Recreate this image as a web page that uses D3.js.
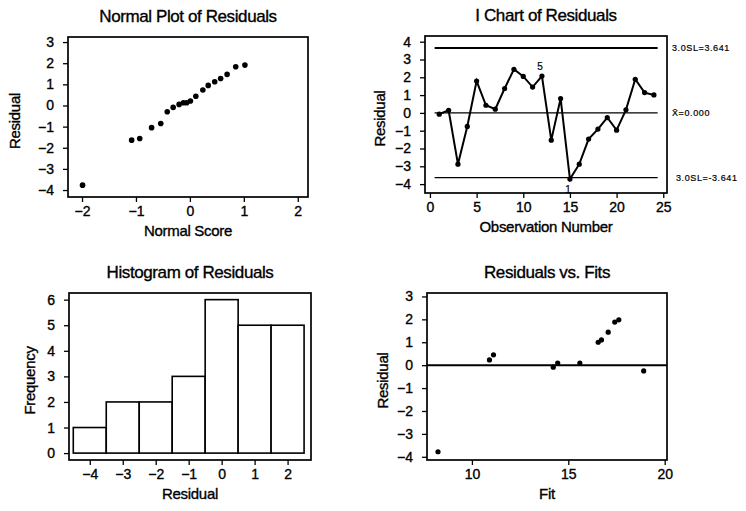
<!DOCTYPE html>
<html>
<head>
<meta charset="utf-8">
<script src="https://cdn.jsdelivr.net/npm/d3@7"></script>
<style>
  body { margin: 0; background: #fff; }
  text { font-family: Arial, "Liberation Sans", sans-serif; fill: #000; stroke: #000; stroke-width: 0.35px; }
  .axis path { display: none; }
  .axis line { stroke: #000; stroke-width: 1.3; }
  .axis text { font-size: 14px; }
  .frame { fill: none; stroke: #000; stroke-width: 1.7; }
  .title { font-size: 17px; letter-spacing: -0.4px; }
  .label { font-size: 15px; letter-spacing: -0.3px; }
</style>
</head>
<body>
<svg id="chart" width="746" height="511"></svg>
<script>
// residual diagnostics, four panels

// normal plot of residuals
var normalScore = [-1.99, -1.08, -0.93, -0.71, -0.54, -0.42, -0.31, -0.20, -0.12, -0.06,
                   0.01, 0.11, 0.24, 0.34, 0.46, 0.57, 0.69, 0.85, 1.02];
var normalResid = [-3.77, -1.64, -1.56, -1.05, -0.85, -0.30, -0.09, 0.05, 0.13, 0.13,
                   0.21, 0.44, 0.73, 0.95, 1.12, 1.28, 1.47, 1.83, 1.91];

// I chart of residuals (observation order)
var obsResid = [-0.07, 0.15, -2.88, -0.76, 1.79, 0.43, 0.21, 1.37, 2.45, 2.05, 1.45, 2.07,
                -1.53, 0.81, -3.72, -2.88, -1.47, -0.91, -0.26, -0.97, 0.17, 1.89, 1.14, 1.01];
var ucl = 3.641, centre = 0.000, lcl = -3.641;
var limitLabels = ["3.0SL=3.641", "X\u0304=0.000", "3.0SL=-3.641"];
var testObs = [12, 15];
var testText = ["5", "1"];

// histogram of residuals
var binMid = [-4, -3, -2, -1, 0, 1, 2];
var binFreq = [1, 2, 2, 3, 6, 5, 5];

// residuals vs fits
var fitVals = [8.24, 10.91, 11.12, 14.22, 14.45, 15.60, 16.55, 16.72, 17.07, 17.41, 17.62, 18.91];
var fitResid = [-3.78, 0.23, 0.45, -0.09, 0.09, 0.09, 1.00, 1.10, 1.44, 1.88, 1.98, -0.25];

var svg = d3.select("#chart");

// builds a framed panel with outward ticks, returns scales and group
function panel(box, xDom, yDom, xTicks, yTicks, title, xLabel, yLabel, yLabelX) {
  var w = box.right - box.left, h = box.bottom - box.top;
  var g = svg.append("g").attr("transform", "translate(" + box.left + "," + box.top + ")");
  var x = d3.scaleLinear().domain(xDom).range([0, w]);
  var y = d3.scaleLinear().domain(yDom).range([h, 0]);

  g.append("g")
    .attr("class", "axis")
    .attr("transform", "translate(0," + h + ")")
    .call(d3.axisBottom(x).tickValues(xTicks).tickSize(5).tickPadding(4).tickFormat(d3.format("d")));

  g.append("g")
    .attr("class", "axis")
    .call(d3.axisLeft(y).tickValues(yTicks).tickSize(5).tickPadding(9).tickFormat(d3.format("d")));

  g.append("rect").attr("class", "frame").attr("width", w).attr("height", h);

  svg.append("text").attr("class", "title")
    .attr("x", box.left + w / 2).attr("y", box.top - 15)
    .attr("text-anchor", "middle").text(title);

  svg.append("text").attr("class", "label")
    .attr("x", box.left + w / 2).attr("y", box.bottom + 39)
    .attr("text-anchor", "middle").text(xLabel);

  svg.append("text").attr("class", "label")
    .attr("transform", "translate(" + yLabelX + "," + (box.top + h / 2 + 4) + ") rotate(-90)")
    .attr("text-anchor", "middle").attr("dy", "0.35em").text(yLabel);

  return {g: g, x: x, y: y, w: w, h: h};
}

// --- normal plot
var p1 = panel({left: 68, top: 37, right: 308, bottom: 197}, [-2.26, 2.19], [-4.33, 3.24],
  [-2, -1, 0, 1, 2], d3.range(-4, 4), "Normal Plot of Residuals", "Normal Score", "Residual", 15);

p1.g.selectAll(".pt").data(normalScore).enter().append("circle")
  .attr("cx", function(d) { return p1.x(d); })
  .attr("cy", function(d, i) { return p1.y(normalResid[i]); })
  .attr("r", 2.8);

// --- I chart
var p2 = panel({left: 425, top: 36, right: 667, bottom: 193}, [-0.53, 25.4], [-4.5, 4.32],
  [0, 5, 10, 15, 20, 25], d3.range(-4, 5), "I Chart of Residuals", "Observation Number", "Residual", 380);

[ucl, centre, lcl].forEach(function(v, i) {
  p2.g.append("line")
    .attr("x1", p2.x(0.5)).attr("x2", p2.x(24.4))
    .attr("y1", p2.y(v)).attr("y2", p2.y(v))
    .attr("stroke", "#000").attr("stroke-width", i === 0 ? 2 : 1.2);
  svg.append("text")
    .attr("x", 667 + (i === 2 ? 9 : 5)).attr("y", 36 + p2.y(v))
    .attr("dy", "0.35em").style("font-size", "9px").style("letter-spacing", "0.6px")
    .style("stroke-width", "0.2px")
    .text(limitLabels[i]);
});

var line = d3.line()
  .x(function(d, i) { return p2.x(i + 1); })
  .y(function(d) { return p2.y(d); });

p2.g.append("path").datum(obsResid)
  .attr("d", line).attr("fill", "none").attr("stroke", "#000").attr("stroke-width", 2);

p2.g.selectAll(".pt").data(obsResid).enter().append("circle")
  .attr("cx", function(d, i) { return p2.x(i + 1); })
  .attr("cy", function(d) { return p2.y(d); })
  .attr("r", 2.6);

testObs.forEach(function(o, i) {
  var v = obsResid[o - 1];
  p2.g.append("text")
    .attr("x", p2.x(o) - 2).attr("y", p2.y(v) + (v > 0 ? -6 : 14))
    .attr("text-anchor", "middle").style("font-size", "10px").style("stroke-width", "0.2px")
    .text(testText[i]);
});

// --- histogram
var p3 = panel({left: 69, top: 293, right: 311, bottom: 460}, [-4.63, 2.71], [-0.27, 6.26],
  binMid, d3.range(0, 7), "Histogram of Residuals", "Residual", "Frequency", 30);

p3.g.selectAll(".bar").data(binFreq).enter().append("rect")
  .attr("x", function(d, i) { return p3.x(binMid[i] - 0.5); })
  .attr("width", function(d, i) { return p3.x(binMid[i] + 0.5) - p3.x(binMid[i] - 0.5); })
  .attr("y", function(d) { return p3.y(d); })
  .attr("height", function(d) { return p3.y(0) - p3.y(d); })
  .attr("fill", "#fff").attr("stroke", "#000").attr("stroke-width", 1.6);

// --- residuals vs fits
var p4 = panel({left: 427, top: 293, right: 667, bottom: 460}, [7.67, 20.12], [-4.14, 3.15],
  [10, 15, 20], d3.range(-4, 4), "Residuals vs. Fits", "Fit", "Residual", 383);

p4.g.append("line")
  .attr("x1", 0).attr("x2", p4.w)
  .attr("y1", p4.y(0)).attr("y2", p4.y(0))
  .attr("stroke", "#000").attr("stroke-width", 2);

p4.g.selectAll(".pt").data(fitVals).enter().append("circle")
  .attr("cx", function(d) { return p4.x(d); })
  .attr("cy", function(d, i) { return p4.y(fitResid[i]); })
  .attr("r", 2.6);
</script>
</body>
</html>
